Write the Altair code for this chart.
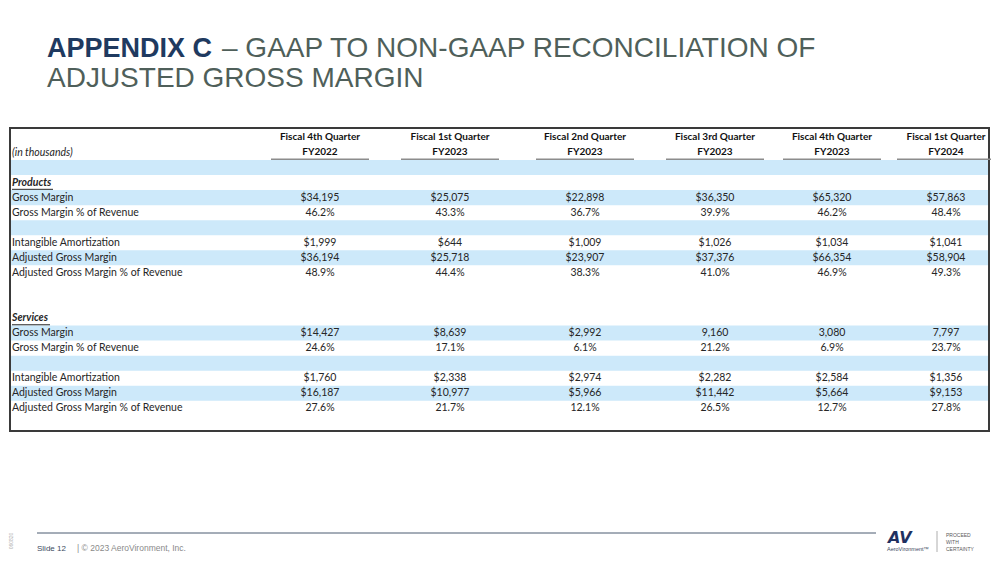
import altair as alt
import pandas as pd

# ---------------- data ----------------
COL_TOP = ["Fiscal 4th Quarter", "Fiscal 1st Quarter", "Fiscal 2nd Quarter",
           "Fiscal 3rd Quarter", "Fiscal 4th Quarter", "Fiscal 1st Quarter"]
COL_FY = ["FY2022", "FY2023", "FY2023", "FY2023", "FY2023", "FY2024"]

ROW_LABELS = ["", "Products", "Gross Margin", "Gross Margin % of Revenue", "",
              "Intangible Amortization", "Adjusted Gross Margin",
              "Adjusted Gross Margin % of Revenue", "", "", "Services",
              "Gross Margin", "Gross Margin % of Revenue", "",
              "Intangible Amortization", "Adjusted Gross Margin",
              "Adjusted Gross Margin % of Revenue"]
ROW_BANDED = [1, 0, 1, 0, 1, 0, 1, 0, 0, 0, 0, 1, 0, 1, 0, 1, 0]
SECTIONS = ["Products", "Services"]

PRODUCTS_GM = ["$34,195", "$25,075", "$22,898", "$36,350", "$65,320", "$57,863"]
PRODUCTS_GM_PCT = ["46.2%", "43.3%", "36.7%", "39.9%", "46.2%", "48.4%"]
PRODUCTS_AMORT = ["$1,999", "$644", "$1,009", "$1,026", "$1,034", "$1,041"]
PRODUCTS_ADJ_GM = ["$36,194", "$25,718", "$23,907", "$37,376", "$66,354", "$58,904"]
PRODUCTS_ADJ_PCT = ["48.9%", "44.4%", "38.3%", "41.0%", "46.9%", "49.3%"]

SERVICES_GM = ["$14,427", "$8,639", "$2,992", "9,160", "3,080", "7,797"]
SERVICES_GM_PCT = ["24.6%", "17.1%", "6.1%", "21.2%", "6.9%", "23.7%"]
SERVICES_AMORT = ["$1,760", "$2,338", "$2,974", "$2,282", "$2,584", "$1,356"]
SERVICES_ADJ_GM = ["$16,187", "$10,977", "$5,966", "$11,442", "$5,664", "$9,153"]
SERVICES_ADJ_PCT = ["27.6%", "21.7%", "12.1%", "26.5%", "12.7%", "27.8%"]

ROW_VALUES = [None, None, PRODUCTS_GM, PRODUCTS_GM_PCT, None, PRODUCTS_AMORT,
              PRODUCTS_ADJ_GM, PRODUCTS_ADJ_PCT, None, None, None,
              SERVICES_GM, SERVICES_GM_PCT, None, SERVICES_AMORT,
              SERVICES_ADJ_GM, SERVICES_ADJ_PCT]

# ---------------- layout (page px) ----------------
W, H = 983, 546
OFF = 8
COL_CENTERS = [320, 450, 585, 715, 832, 946]
BAND = "#cde9fa"
TXT = "#262626"
FONT = "Lato"
FS = 10.5
HFS = 10


def px(v):
    return v - OFF


rows_df = pd.DataFrame({"row": list(range(len(ROW_LABELS))),
                        "label": ROW_LABELS, "banded": ROW_BANDED})
rows_df["section"] = rows_df["label"].isin(SECTIONS).astype(int)

cells = []
for r, vals in enumerate(ROW_VALUES):
    if vals is None:
        continue
    for c, t in enumerate(vals):
        cells.append({"row": r, "col": c, "text": t})
cells_df = pd.DataFrame(cells)
head_df = pd.DataFrame({"col": list(range(6)), "top": COL_TOP, "fy": COL_FY})

centers_expr = "[" + ",".join(str(px(c)) for c in COL_CENTERS) + "][datum.col]"

yscale = alt.Scale(domain=[0, 16], range=[px(167.5), px(167.5 + 16 * 15.05)], nice=False, zero=False)
xscale = alt.Scale(domain=[0, W], range=[0, W], nice=False, zero=False)

one = pd.DataFrame({"a": [0]})

bands = alt.Chart(rows_df).transform_filter("datum.banded == 1").transform_calculate(
    r0="datum.row - 0.5", r1="datum.row + 0.5"
).mark_rect(color=BAND).encode(
    x=alt.value(px(10)), x2=alt.value(px(989)),
    y=alt.Y("r0:Q", scale=yscale, axis=None), y2="r1:Q")

labels = alt.Chart(rows_df).transform_filter("datum.section == 0 && datum.label != ''").mark_text(
    align="left", baseline="middle", font=FONT, fontSize=FS, color=TXT
).encode(x=alt.value(px(12)), y=alt.Y("row:Q", scale=yscale, axis=None), text="label:N")

sections = alt.Chart(rows_df).transform_filter("datum.section == 1").mark_text(
    align="left", baseline="middle", font=FONT, fontSize=FS, color=TXT,
    fontWeight="bold", fontStyle="italic"
).encode(x=alt.value(px(12)), y=alt.Y("row:Q", scale=yscale, axis=None), text="label:N")

sec_under = alt.Chart(rows_df).transform_filter("datum.section == 1").transform_calculate(
    ru="datum.row + 0.45", ux0=str(px(12)),
    ux1=f"{px(12)} + (datum.label == 'Products' ? 41 : 38)"
).mark_rule(color=TXT, strokeWidth=1).encode(
    x=alt.X("ux0:Q", scale=xscale, axis=None), x2="ux1:Q",
    y=alt.Y("ru:Q", scale=yscale, axis=None))

values = alt.Chart(cells_df).transform_calculate(cx=centers_expr).mark_text(
    align="center", baseline="middle", font=FONT, fontSize=FS, color=TXT
).encode(x=alt.X("cx:Q", scale=xscale, axis=None),
         y=alt.Y("row:Q", scale=yscale, axis=None), text="text:N")

head_top = alt.Chart(head_df).transform_calculate(cx=centers_expr, ry="-2.03").mark_text(
    align="center", baseline="middle", font=FONT, fontSize=HFS, color="#111111", fontWeight="bold"
).encode(x=alt.X("cx:Q", scale=xscale, axis=None),
         y=alt.Y("ry:Q", scale=yscale, axis=None), text="top:N")

head_fy = alt.Chart(head_df).transform_calculate(cx=centers_expr, ry="-1").mark_text(
    align="center", baseline="middle", font=FONT, fontSize=HFS, color="#111111", fontWeight="bold"
).encode(x=alt.X("cx:Q", scale=xscale, axis=None),
         y=alt.Y("ry:Q", scale=yscale, axis=None), text="fy:N")

head_rule = alt.Chart(head_df).transform_calculate(
    cx=centers_expr, ux0="(" + centers_expr + ") - 49", ux1="(" + centers_expr + ") + 49", ry="-0.55"
).mark_rule(color="#8c8c8c", strokeWidth=1.5).encode(
    x=alt.X("ux0:Q", scale=xscale, axis=None), x2="ux1:Q",
    y=alt.Y("ry:Q", scale=yscale, axis=None))

in_thousands = alt.Chart(one).mark_text(
    align="left", baseline="middle", font=FONT, fontSize=FS, color=TXT, fontStyle="italic",
    text="(in thousands)"
).encode(x=alt.value(px(12)), y=alt.value(px(152.5)))

border = alt.Chart(one).mark_rect(fill=None, stroke="#3a3a3a", strokeWidth=2).encode(
    x=alt.value(px(10)), x2=alt.value(px(989)), y=alt.value(px(128)), y2=alt.value(px(431)))

# ---------------- title ----------------
TFONT = "Liberation Sans"
title_bold = alt.Chart(one).mark_text(
    align="left", baseline="alphabetic", font=TFONT, fontSize=27, fontWeight="bold",
    color="#1f3a60", text="APPENDIX C"
).encode(x=alt.value(px(47)), y=alt.value(px(57)))
title_rest = alt.Chart(one).mark_text(
    align="left", baseline="alphabetic", font=TFONT, fontSize=28,
    color="#4f5f5a", text="– GAAP TO NON-GAAP RECONCILIATION OF"
).encode(x=alt.value(px(222)), y=alt.value(px(57)))
title_line2 = alt.Chart(one).mark_text(
    align="left", baseline="alphabetic", font=TFONT, fontSize=28,
    color="#4f5f5a", text="ADJUSTED GROSS MARGIN"
).encode(x=alt.value(px(47)), y=alt.value(px(87)))

# ---------------- footer ----------------
foot_line = alt.Chart(one).mark_rule(color="#4a5a70", strokeWidth=1).encode(
    x=alt.value(px(37)), x2=alt.value(px(876)), y=alt.value(px(533)))
slide_txt = alt.Chart(one).mark_text(
    align="left", baseline="alphabetic", font="Liberation Sans", fontSize=8,
    color="#3c4a60", text="Slide 12"
).encode(x=alt.value(px(37)), y=alt.value(px(551)))
copy_txt = alt.Chart(one).mark_text(
    align="left", baseline="alphabetic", font="Liberation Sans", fontSize=8.5,
    color="#8a8a8a", text="|  © 2023 AeroVironment, Inc."
).encode(x=alt.value(px(77)), y=alt.value(px(551)))
side_txt = alt.Chart(one).mark_text(
    align="center", baseline="middle", font="Liberation Sans", fontSize=5,
    color="#b0b0b0", angle=270, text="060820"
).encode(x=alt.value(px(11)), y=alt.value(px(541)))
logo_av = alt.Chart(one).mark_text(
    align="left", baseline="alphabetic", font="DejaVu Sans", fontSize=16, fontWeight="bold",
    fontStyle="italic", color="#1f3060", text="AV"
).encode(x=alt.value(px(888)), y=alt.value(px(543)))
logo_name = alt.Chart(one).mark_text(
    align="left", baseline="alphabetic", font="Liberation Sans", fontSize=5.5,
    color="#3c4a60", text="AeroVironment™"
).encode(x=alt.value(px(887)), y=alt.value(px(551)))
logo_sep = alt.Chart(one).mark_rule(color="#9a9a9a", strokeWidth=0.8).encode(
    x=alt.value(px(937)), y=alt.value(px(531)), y2=alt.value(px(552)))
tag1 = alt.Chart(one).mark_text(align="left", baseline="alphabetic", font="Liberation Sans",
                                fontSize=5, color="#5a5a5a", text="PROCEED").encode(
    x=alt.value(px(946)), y=alt.value(px(537)))
tag2 = alt.Chart(one).mark_text(align="left", baseline="alphabetic", font="Liberation Sans",
                                fontSize=5, color="#5a5a5a", text="WITH").encode(
    x=alt.value(px(946)), y=alt.value(px(544)))
tag3 = alt.Chart(one).mark_text(align="left", baseline="alphabetic", font="Liberation Sans",
                                fontSize=5, color="#5a5a5a", text="CERTAINTY").encode(
    x=alt.value(px(946)), y=alt.value(px(551)))

chart = alt.layer(
    bands, border, labels, sections, sec_under, values, head_top, head_fy, head_rule,
    in_thousands, title_bold, title_rest, title_line2,
    foot_line, slide_txt, copy_txt, side_txt, logo_av, logo_name, logo_sep, tag1, tag2, tag3
).properties(
    width=W, height=H, padding=0, autosize=alt.AutoSizeParams(type="none"), background="white"
).configure_view(stroke=None)

chart.save("out.html", embed_options={"renderer": "svg", "actions": False})
